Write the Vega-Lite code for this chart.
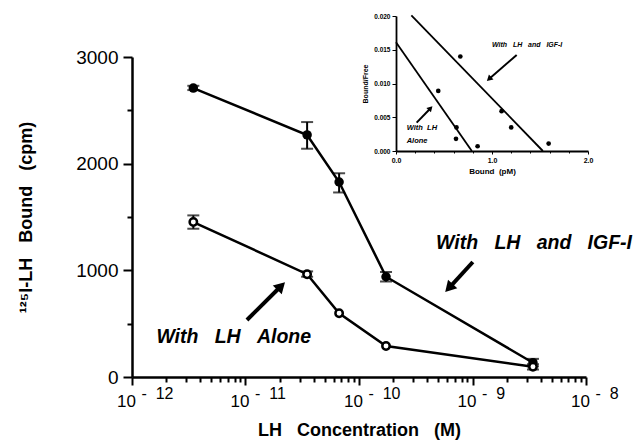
{
  "$schema": "https://vega.github.io/schema/vega-lite/v6.json",
  "width": 454,
  "height": 320,
  "autosize": "none",
  "padding": {"left": 132, "top": 57, "right": 52, "bottom": 67},
  "background": "white",
  "config": {"view": {"stroke": null}, "font": "Liberation Sans"},
  "datasets": {
    "main": [
      {"series": "IGF", "conc": 3.47e-12, "cpm": 2709},
      {"series": "IGF", "conc": 3.49e-11, "cpm": 2269},
      {"series": "IGF", "conc": 6.68e-11, "cpm": 1828},
      {"series": "IGF", "conc": 1.73e-10, "cpm": 940},
      {"series": "IGF", "conc": 3.41e-9, "cpm": 134},
      {"series": "Alone", "conc": 3.47e-12, "cpm": 1453},
      {"series": "Alone", "conc": 3.49e-11, "cpm": 964},
      {"series": "Alone", "conc": 6.68e-11, "cpm": 598},
      {"series": "Alone", "conc": 1.73e-10, "cpm": 291},
      {"series": "Alone", "conc": 3.41e-9, "cpm": 96}
    ],
    "err": [
      {"series": "IGF", "conc": 3.47e-12, "lo": 2690, "hi": 2730},
      {"series": "IGF", "conc": 3.49e-11, "lo": 2140, "hi": 2390},
      {"series": "IGF", "conc": 6.68e-11, "lo": 1730, "hi": 1910},
      {"series": "IGF", "conc": 1.73e-10, "lo": 895, "hi": 985},
      {"series": "IGF", "conc": 3.41e-9, "lo": 100, "hi": 170},
      {"series": "Alone", "conc": 3.47e-12, "lo": 1390, "hi": 1515},
      {"series": "Alone", "conc": 3.49e-11, "lo": 940, "hi": 990},
      {"series": "Alone", "conc": 3.41e-9, "lo": 70, "hi": 120}
    ],
    "labels": [
      {"label": "With\u00a0\u00a0\u00a0LH\u00a0\u00a0\u00a0and\u00a0\u00a0\u00a0IGF-I", "conc": 4.78e-10, "cpm": 1256},
      {"label": "With\u00a0\u00a0\u00a0LH\u00a0\u00a0\u00a0Alone", "conc": 1.64e-12, "cpm": 375}
    ],
    "arrowIGF": [{"conc": 1.007e-9, "cpm": 1078, "conc2": 6.2e-10, "cpm2": 834}],
    "arrowAlone": [{"conc": 1.03e-11, "cpm": 534, "conc2": 2.06e-11, "cpm2": 853}],
    "insetPts": [
      {"series": "Alone", "bound": 0.44, "bf": 0.0089},
      {"series": "Alone", "bound": 0.63, "bf": 0.0035},
      {"series": "Alone", "bound": 0.625, "bf": 0.0018},
      {"series": "Alone", "bound": 0.85, "bf": 0.0007},
      {"series": "IGF", "bound": 0.67, "bf": 0.014},
      {"series": "IGF", "bound": 1.10, "bf": 0.0059},
      {"series": "IGF", "bound": 1.20, "bf": 0.0035},
      {"series": "IGF", "bound": 1.59, "bf": 0.0011}
    ],
    "insetLines": [
      {"series": "Alone", "bound": 0.0, "bf": 0.0161, "bound2": 0.79, "bf2": 0.0},
      {"series": "IGF", "bound": 0.16, "bf": 0.0201, "bound2": 1.53, "bf2": 0.0}
    ],
    "insetLabels": [
      {"label": "With\u00a0\u00a0\u00a0LH\u00a0\u00a0\u00a0and\u00a0\u00a0\u00a0IGF-I", "bound": 1.0, "bf": 0.0157, "al": "left"},
      {"label": "With\u00a0\u00a0LH", "bound": 0.27, "bf": 0.0034, "al": "center"},
      {"label": "Alone", "bound": 0.22, "bf": 0.0015, "al": "center"}
    ],
    "insetArrowIGF": [{"bound": 1.257, "bf": 0.01422, "bound2": 0.969, "bf2": 0.01067}],
    "insetArrowAlone": [{"bound": 0.215, "bf": 0.0042, "bound2": 0.36, "bf2": 0.00634}]
  },
  "resolve": {
    "scale": {"x": "independent", "y": "independent"},
    "axis": {"x": "independent", "y": "independent"}
  },
  "layer": [
    {
      "resolve": {"axis": {"x": "independent"}},
      "layer": [
        {
          "data": {"name": "main"},
          "mark": {"type": "line", "color": "black", "strokeWidth": 2.5},
          "encoding": {
            "x": {
              "field": "conc", "type": "quantitative",
              "scale": {"type": "log", "domain": [1e-12, 1e-8], "nice": false},
              "axis": {
                "orient": "bottom",
                "values": [1e-12, 2e-12, 3e-12, 4e-12, 5e-12, 6e-12, 7e-12, 8e-12, 9e-12,
                           1e-11, 2e-11, 3e-11, 4e-11, 5e-11, 6e-11, 7e-11, 8e-11, 9e-11,
                           1e-10, 2e-10, 3e-10, 4e-10, 5e-10, 6e-10, 7e-10, 8e-10, 9e-10,
                           1e-9, 2e-9, 3e-9, 4e-9, 5e-9, 6e-9, 7e-9, 8e-9, 9e-9, 1e-8],
                "labelExpr": "indexof([1e-12, 1e-11, 1e-10, 1e-9, 1e-8], datum.value) >= 0 ? '10' : ''",
                "labelFontSize": 17, "labelColor": "black", "labelPadding": 8,
                "labelAlign": "center", "labelOffset": -6,
                "labelOverlap": false, "labelFlush": false, "labelBound": false,
                "tickSize": {"condition": {"test": "indexof([1e-12, 1e-11, 1e-10, 1e-9, 1e-8], datum.value) >= 0", "value": 8}, "value": 5},
                "tickWidth": 2, "tickColor": "black",
                "domainColor": "black", "domainWidth": 2.5, "grid": false,
                "title": "LH\u00a0\u00a0\u00a0Concentration\u00a0\u00a0\u00a0(M)",
                "titleFontSize": 18, "titleFontWeight": "bold", "titleColor": "black", "titlePadding": 12
              }
            },
            "y": {
              "field": "cpm", "type": "quantitative",
              "scale": {"domain": [0, 3000], "nice": false},
              "axis": {
                "values": [0, 500, 1000, 1500, 2000, 2500, 3000],
                "format": "d",
                "labelExpr": "datum.value % 1000 == 0 ? datum.label : ''",
                "labelFontSize": 19, "labelColor": "black", "labelPadding": 5,
                "labelOverlap": false, "labelFlush": false,
                "tickSize": {"condition": {"test": "datum.value % 1000 == 0", "value": 9}, "value": 5},
                "tickWidth": 2, "tickColor": "black",
                "domainColor": "black", "domainWidth": 2.5, "grid": false,
                "title": "¹²⁵I-LH\u00a0\u00a0\u00a0Bound\u00a0\u00a0\u00a0(cpm)",
                "titleFontSize": 18, "titleFontWeight": "bold", "titleColor": "black", "titlePadding": 40
              }
            },
            "detail": {"field": "series"}
          }
        },
        {
          "data": {"name": "err"},
          "mark": {"type": "errorbar", "color": "black", "thickness": 2, "ticks": {"size": 12, "thickness": 2, "color": "black"}},
          "encoding": {
            "x": {"field": "conc", "type": "quantitative", "axis": null},
            "y": {"field": "lo", "type": "quantitative", "title": "¹²⁵I-LH\u00a0\u00a0\u00a0Bound\u00a0\u00a0\u00a0(cpm)"},
            "y2": {"field": "hi"}
          }
        },
        {
          "data": {"name": "main"},
          "transform": [{"filter": "datum.series == 'IGF'"}],
          "mark": {"type": "point", "shape": "circle", "filled": true, "color": "black", "size": 90, "opacity": 1},
          "encoding": {
            "x": {
              "field": "conc", "type": "quantitative",
              "axis": {
                "orient": "bottom",
                "values": [1e-12, 1e-11, 1e-10, 1e-9, 1e-8],
                "labelExpr": "datum.value == 1e-12 ? '-\u00a0\u00a012' : datum.value == 1e-11 ? '-\u00a0\u00a011' : datum.value == 1e-10 ? '-\u00a0\u00a010' : datum.value == 1e-9 ? '-\u00a0\u00a09' : datum.value == 1e-8 ? '-\u00a0\u00a08' : ''",
                "labelFontSize": 16, "labelColor": "black", "labelPadding": 8,
                "labelAlign": "left", "labelOffset": 9,
                "labelOverlap": false, "labelFlush": false, "labelBound": false,
                "ticks": false, "tickSize": 0, "domain": false, "grid": false, "title": null
              }
            },
            "y": {"field": "cpm", "type": "quantitative"}
          }
        },
        {
          "data": {"name": "main"},
          "transform": [{"filter": "datum.series == 'Alone'"}],
          "mark": {"type": "point", "shape": "circle", "filled": false, "fill": "white", "fillOpacity": 1, "stroke": "black", "strokeWidth": 2.5, "size": 55, "opacity": 1},
          "encoding": {
            "x": {"field": "conc", "type": "quantitative", "axis": null},
            "y": {"field": "cpm", "type": "quantitative"}
          }
        },
        {
          "data": {"name": "labels"},
          "mark": {"type": "text", "align": "left", "baseline": "middle", "fontSize": 19.5, "fontWeight": "bold", "fontStyle": "italic", "color": "black"},
          "encoding": {
            "x": {"field": "conc", "type": "quantitative", "axis": null},
            "y": {"field": "cpm", "type": "quantitative"},
            "text": {"field": "label"}
          }
        },
        {
          "data": {"name": "arrowIGF"},
          "layer": [
            {
              "mark": {"type": "rule", "color": "black", "strokeWidth": 4},
              "encoding": {
                "x": {"field": "conc", "type": "quantitative", "axis": null},
                "y": {"field": "cpm", "type": "quantitative"},
                "x2": {"field": "conc2"},
                "y2": {"field": "cpm2"}
              }
            },
            {
              "mark": {"type": "point", "shape": "triangle-up", "filled": true, "color": "black", "size": 160, "angle": 223, "opacity": 1},
              "encoding": {
                "x": {"field": "conc2", "type": "quantitative", "axis": null},
                "y": {"field": "cpm2", "type": "quantitative"}
              }
            }
          ]
        },
        {
          "data": {"name": "arrowAlone"},
          "layer": [
            {
              "mark": {"type": "rule", "color": "black", "strokeWidth": 4},
              "encoding": {
                "x": {"field": "conc", "type": "quantitative", "axis": null},
                "y": {"field": "cpm", "type": "quantitative"},
                "x2": {"field": "conc2"},
                "y2": {"field": "cpm2"}
              }
            },
            {
              "mark": {"type": "point", "shape": "triangle-up", "filled": true, "color": "black", "size": 160, "angle": 45, "opacity": 1},
              "encoding": {
                "x": {"field": "conc2", "type": "quantitative", "axis": null},
                "y": {"field": "cpm2", "type": "quantitative"}
              }
            }
          ]
        }
      ]
    },
    {
      "layer": [
        {
          "data": {"name": "insetLines"},
          "mark": {"type": "rule", "color": "black", "strokeWidth": 1.8},
          "encoding": {
            "x": {
              "field": "bound", "type": "quantitative",
              "scale": {"domain": [0, 2], "range": [264, 456], "nice": false, "zero": false},
              "axis": {
                "orient": "bottom", "offset": -226,
                "values": [0, 0.1, 0.2, 0.3, 0.4, 0.5, 0.6, 0.7, 0.8, 0.9, 1.0, 1.1, 1.2, 1.3, 1.4, 1.5, 1.6, 1.7, 1.8, 1.9, 2.0],
                "labelExpr": "round(datum.value * 10) % 5 == 0 ? format(datum.value, '.1f') : ''",
                "labelFontSize": 7, "labelFontWeight": "bold", "labelColor": "black", "labelPadding": 2,
                "labelOverlap": false, "labelFlush": false, "labelBound": false,
                "tickSize": {"condition": {"test": "round(datum.value * 10) % 5 == 0", "value": 3}, "value": 2},
                "tickWidth": 1, "tickColor": "black",
                "domainColor": "black", "domainWidth": 1.8, "grid": false,
                "title": "Bound\u00a0\u00a0(pM)",
                "titleFontSize": 8, "titleFontWeight": "bold", "titleColor": "black", "titlePadding": 4
              }
            },
            "y": {
              "field": "bf", "type": "quantitative",
              "scale": {"domain": [0, 0.02], "range": [94, -41], "nice": false, "zero": false},
              "axis": {
                "orient": "left", "offset": -264,
                "values": [0, 0.0025, 0.005, 0.0075, 0.01, 0.0125, 0.015, 0.0175, 0.02],
                "labelExpr": "round(datum.value * 10000) % 50 == 0 ? format(datum.value, '.3f') : ''",
                "labelFontSize": 6.5, "labelFontWeight": "bold", "labelColor": "black", "labelPadding": 2,
                "labelOverlap": false, "labelFlush": false, "labelBound": false,
                "tickSize": {"condition": {"test": "round(datum.value * 10000) % 50 == 0", "value": 4}, "value": 2},
                "tickWidth": 1, "tickColor": "black",
                "domainColor": "black", "domainWidth": 1.8, "grid": false,
                "title": "Bound/Free",
                "titleFontSize": 7, "titleFontWeight": "bold", "titleColor": "black", "titlePadding": 5
              }
            },
            "x2": {"field": "bound2"},
            "y2": {"field": "bf2"}
          }
        },
        {
          "data": {"name": "insetPts"},
          "mark": {"type": "point", "shape": "circle", "filled": true, "color": "black", "size": 22, "opacity": 1},
          "encoding": {
            "x": {"field": "bound", "type": "quantitative"},
            "y": {"field": "bf", "type": "quantitative"}
          }
        },
        {
          "data": {"name": "insetLabels"},
          "transform": [{"filter": "datum.al == 'left'"}],
          "mark": {"type": "text", "align": "left", "baseline": "middle", "fontSize": 7, "fontWeight": "bold", "fontStyle": "italic", "color": "black"},
          "encoding": {
            "x": {"field": "bound", "type": "quantitative"},
            "y": {"field": "bf", "type": "quantitative"},
            "text": {"field": "label"}
          }
        },
        {
          "data": {"name": "insetLabels"},
          "transform": [{"filter": "datum.al == 'center'"}],
          "mark": {"type": "text", "align": "center", "baseline": "middle", "fontSize": 7.5, "fontWeight": "bold", "fontStyle": "italic", "color": "black"},
          "encoding": {
            "x": {"field": "bound", "type": "quantitative"},
            "y": {"field": "bf", "type": "quantitative"},
            "text": {"field": "label"}
          }
        },
        {
          "data": {"name": "insetArrowIGF"},
          "layer": [
            {
              "mark": {"type": "rule", "color": "black", "strokeWidth": 2},
              "encoding": {
                "x": {"field": "bound", "type": "quantitative"},
                "y": {"field": "bf", "type": "quantitative"},
                "x2": {"field": "bound2"},
                "y2": {"field": "bf2"}
              }
            },
            {
              "mark": {"type": "point", "shape": "triangle-up", "filled": true, "color": "black", "size": 45, "angle": 228, "opacity": 1},
              "encoding": {
                "x": {"field": "bound2", "type": "quantitative"},
                "y": {"field": "bf2", "type": "quantitative"}
              }
            }
          ]
        },
        {
          "data": {"name": "insetArrowAlone"},
          "layer": [
            {
              "mark": {"type": "rule", "color": "black", "strokeWidth": 2},
              "encoding": {
                "x": {"field": "bound", "type": "quantitative"},
                "y": {"field": "bf", "type": "quantitative"},
                "x2": {"field": "bound2"},
                "y2": {"field": "bf2"}
              }
            },
            {
              "mark": {"type": "point", "shape": "triangle-up", "filled": true, "color": "black", "size": 40, "angle": 44, "opacity": 1},
              "encoding": {
                "x": {"field": "bound2", "type": "quantitative"},
                "y": {"field": "bf2", "type": "quantitative"}
              }
            }
          ]
        }
      ]
    }
  ]
}
